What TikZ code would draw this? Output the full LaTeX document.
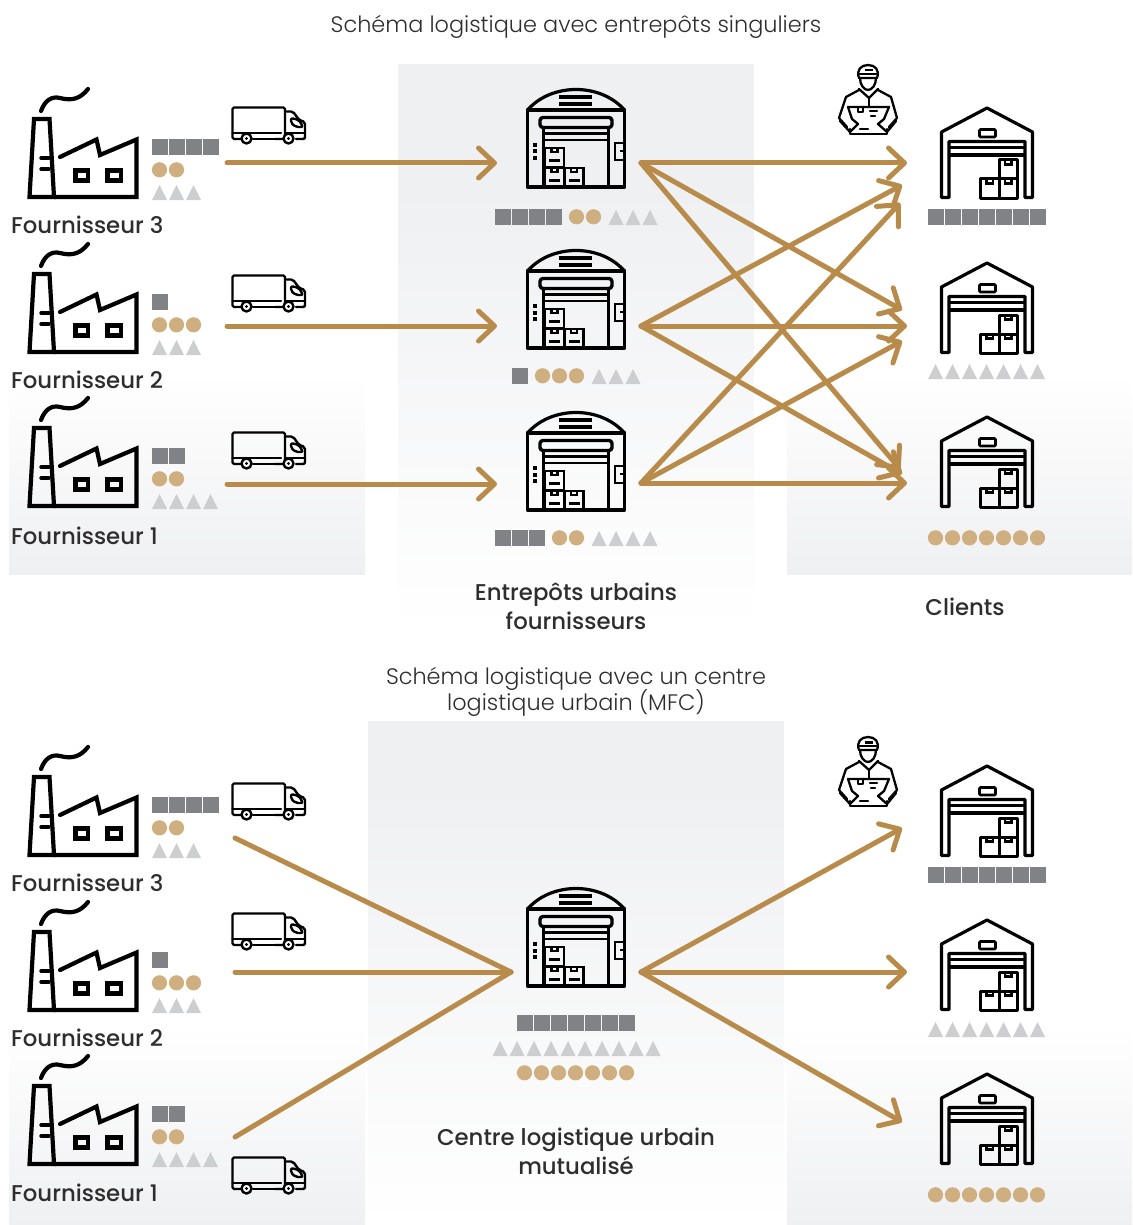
\documentclass[tikz,border=0pt]{standalone}
\usepackage{fontspec}
\setmainfont{Poppins}
\newfontfamily\lightface{Poppins Light}
\newfontfamily\mediumface{Poppins Medium}
\usetikzlibrary{arrows.meta, positioning}

\definecolor{panelgrey}{HTML}{EFF0F2}
\definecolor{flowbrown}{HTML}{B88B4A}
\definecolor{sqgrey}{HTML}{808285}
\definecolor{dotsand}{HTML}{CFAF7F}
\definecolor{trigrey}{HTML}{CDCED0}
\definecolor{inkdark}{HTML}{2F2D2E}

\begin{document}
\begin{tikzpicture}[x=1pt, y=-1pt]
	\tikzset{>={Straight Barb[length=16pt, width=30pt, round]},
		flow/.style={draw=flowbrown, line width=5pt, line cap=round},
		icon/.style={draw=black, line cap=round, line join=round},
		title/.style={font=\lightface\fontsize{22.4}{26}\selectfont, text=inkdark, align=center},
		heading/.style={font=\mediumface\fontsize{22.8}{29}\selectfont, text=inkdark, align=center},
		pics/squares/.style={code={\foreach \i in {1,...,#1} \fill[sqgrey] ({(\i-1)*17},0) rectangle ++(16,16);}},
		pics/dots/.style={code={\foreach \i in {1,...,#1} \fill[dotsand] ({(\i-1)*17+7.5},7.8) circle (7.6);}},
		pics/triangles/.style={code={\foreach \i in {1,...,#1} \fill[trigrey] ({(\i-1)*17},15) -- ++(7.5,-15) -- ++(7.5,15) -- cycle;}},
		pics/factory/.style={code={
			\draw[icon, line width=4.2pt] (41,111) .. controls (45,100) and (52,96) .. (60,98) .. controls (72,101) and (80,99) .. (88,89);
			\draw[icon, line width=4.2pt, line join=miter] (29.5,197) -- (34,119) -- (49.5,119) -- (54,197) -- cycle;
			\draw[icon, line width=4.2pt, line join=miter] (54,197) -- (136.5,197) -- (136.5,139.5) -- (100,155) -- (96.5,139.5) -- (60,157);
			\draw[icon, line width=3.4pt] (41,158) -- (49,158) (41,169) -- (49,169);
			\draw[line width=4.2pt] (75.5,170.5) rectangle (88,180.5) (107.5,170.5) rectangle (121,180.5);
		}},
		pics/truck/.style={code={
			\draw[icon, line width=2.4pt, rounded corners=1.5pt] (241,139) -- (232.5,139) -- (232.5,107.5) -- (285,107.5) -- (285,139) -- (275,139);
			\draw[icon, line width=2.4pt] (232.5,133) -- (281,133) (253,139) -- (275,139);
			\draw[icon, line width=2.4pt, rounded corners=2pt] (285,111.5) -- (293,111.5) -- (299,120) -- (305,122) -- (305,139) -- (296,139);
			\draw[icon, line width=2.4pt, rounded corners=2pt] (291,118) -- (299,120) -- (303,127) -- (296,127) -- (291,123) -- cycle;
			\draw[icon, line width=2.4pt] (285,133) -- (305,133);
			\draw[icon, line width=2.4pt, fill=white] (246.5,138.5) circle (5) (288.5,138.5) circle (5);
			\fill (246.5,138.5) circle (1.6) (288.5,138.5) circle (1.6);
		}},
		pics/depot/.style={code={
			\draw[icon, line width=3.2pt] (527.5,110) .. controls (540,96) and (558,89.5) .. (576,89.5) .. controls (594,89.5) and (612,96) .. (624.5,110) -- cycle;
			\draw[icon, line width=3.2pt] (527.5,110) rectangle (624.5,187);
			\draw[line width=3.2pt] (559,97) -- (592,97) (559,104) -- (592,104);
			\draw[icon, line width=3.4pt, rounded corners=3pt] (540,127.5) -- (540,117.5) -- (612,117.5) -- (612,127.5) -- cycle;
			\draw[line width=3.2pt] (543.5,127.5) -- (543.5,187) (608.5,127.5) -- (608.5,187) (543.5,133.5) -- (608.5,133.5);
			\draw[line width=2.4pt] (543.5,140) -- (608.5,140);
			\foreach \bx/\by in {545/148, 545/168, 564.5/168} {
				\draw[line width=2.8pt] (\bx,\by) rectangle ++(19,19.5);
				\draw[line width=2.2pt] (\bx+6.5,\by) -- ++(0,4) -- ++(6,0) -- ++(0,-4);
				\fill (\bx+4,\by+11) rectangle ++(11,3.4);
			}
			\foreach \dy in {143, 149.5, 156} \fill (533,\dy) rectangle ++(4,4);
			\draw[line width=2.8pt] (615,143) rectangle (624.5,160);
			\draw[line width=2.8pt] (620,151) -- (624,151);
		}},
		pics/store/.style={code={
			\draw[icon, line width=3.2pt] (949,197.5) -- (941.5,197.5) -- (941.5,132) -- (987,108) -- (1032.5,132) -- (1032.5,197.5) -- (1025,197.5) -- (1025,141.5) -- (949,141.5) -- cycle;
			\draw[line width=3.4pt] (949,155) -- (1025,155);
			\draw[line width=2.6pt] (949,147.5) -- (1025,147.5);
			\draw[icon, line width=2.8pt, rounded corners=1pt] (979.5,129.5) rectangle (995.5,137);
			\foreach \bx/\by in {980.5/179, 999/179, 999/160} {
				\draw[icon, line width=3pt] (\bx,\by) rectangle ++(18.5,19);
				\draw[line width=2.4pt] (\bx+6,\by) -- ++(0,4.5) -- ++(6.5,0) -- ++(0,-4.5);
			}
		}},
		pics/courier/.style={code={
			\begin{scope}[icon, line width=2.3pt]
			\draw (859,78) .. controls (856,70) and (861,65) .. (868,65) .. controls (875,65) and (880,70) .. (877,78) -- cycle;
			\draw (859,74) -- (877,74);
			\draw (860,78) .. controls (860,85) and (864,90) .. (868,90) .. controls (872,90) and (876,85) .. (876,78);
			\fill (865,69) rectangle (873,71.5);
			\draw (859,89) -- (869,98) -- (878,89);
			\draw (869,98) -- (869,107);
			\draw (859,90) -- (846,97) -- (839,118) -- (847,127);
			\draw (878,90) -- (891,97) -- (897,118) -- (889,127);
			\draw (848,107) -- (889,107) -- (884,119) -- (878,124) -- (887,132) -- (896,121);
			\draw (848,107) -- (852,119) -- (858,124) -- (850,132) -- (840,121);
			\draw (850,129) -- (850,134) -- (887,134) -- (887,129);
			\draw (858,107) -- (858,112) -- (863,112) -- (863,107);
			\draw (870,111) -- (877,111) (871,116) -- (875,116) (860,129) -- (868,129);
			\end{scope}
		}}
	}

	\useasboundingbox (0,0) rectangle (1132,1225);

	% panels
	\fill[panelgrey] (398,64) rectangle (754,190);
	\shade[top color=panelgrey, bottom color=white] (398,190) rectangle (754,630);
	\fill[panelgrey] (368,721) rectangle (784,785);
	\shade[top color=panelgrey, bottom color=white] (368,785) rectangle (784,1225);
	\foreach \px/\qx in {9/365, 787/1132} {
		\shade[top color=white, bottom color=panelgrey] (\px,374) rectangle (\qx,574);
		\shade[top color=white, bottom color=panelgrey] (\px,1025) rectangle (\qx,1225);
	}

	% suppliers: row, factory shift, truck shift, squares, dots, triangles
	\foreach \n/\fs/\ts/\ns/\nd/\nt in {a3/0/0/4/2/3, a2/155/168/1/3/3, a1/309/325/2/2/4,
			b3/658/676/4/2/3, b2/813/806/1/3/3, b1/967/1050/2/2/4} {
		\pic at (0,\fs) {factory};
		\pic at (0,\ts) {truck};
		\pic at (152,139+\fs) {squares=\ns};
		\pic at (152,162+\fs) {dots=\nd};
		\pic at (152,185+\fs) {triangles=\nt};
	}
	\foreach \n/\fs/\txt in {a3/0/3, a2/155/2, a1/311/1, b3/658/3, b2/813/2, b1/968/1}
		\node[heading, anchor=base west, inner sep=0pt] (sup\n) at (11,233+\fs) {Fournisseur \txt};

	% depots
	\foreach \ds in {0, 161, 323, 799} \pic at (0,\ds) {depot};
	\pic at (495,209) {squares=4};
	\pic at (569,209) {dots=2};
	\pic at (608.5,210) {triangles=3};
	\pic at (512,368) {squares=1};
	\pic at (535,368) {dots=3};
	\pic at (591.5,369) {triangles=3};
	\pic at (495,530) {squares=3};
	\pic at (552,530) {dots=2};
	\pic at (591.5,531) {triangles=4};
	\pic at (517,1015) {squares=7};
	\pic at (492.5,1041) {triangles=10};
	\pic at (517,1065) {dots=7};

	% clients
	\foreach \cs in {0, 155, 309, 658, 812, 966} \pic at (0,\cs) {store};
	\pic at (928,209) {squares=7};
	\pic at (928,364) {triangles=7};
	\pic at (928,530) {dots=7};
	\pic at (928,867) {squares=7};
	\pic at (928,1022) {triangles=7};
	\pic at (928,1187) {dots=7};
	\pic at (0,0) {courier};
	\pic at (0,672) {courier};

	% texts
	\node[title] (upptitle) at (576,27) {Schéma logistique avec entrepôts singuliers};
	\node[title] (lowtitle) at (576,692) {Schéma logistique avec un centre\\[-2pt]logistique urbain (MFC)};
	\node[heading] (depname) at (576,606) {Entrepôts urbains\\fournisseurs};
	\node[heading] (cliname) at (965,607) {Clients};
	\node[heading] (hubname) at (576,1151) {Centre logistique urbain\\mutualisé};

	% ends of the flows
	\coordinate (in3) at (227,163);
	\coordinate (in2) at (227,326);
	\coordinate (in1) at (227,484);
	\coordinate (dep3w) at (497,163);
	\coordinate (dep2w) at (497,326);
	\coordinate (dep1w) at (497,484);
	\coordinate (dep3e) at (641,163);
	\coordinate (dep2e) at (641,326);
	\coordinate (dep1e) at (641,483);
	\coordinate (cli3a) at (907,163);
	\coordinate (cli3b) at (902,185);
	\coordinate (cli3c) at (900,203);
	\coordinate (cli2a) at (902,310);
	\coordinate (cli2b) at (907,326);
	\coordinate (cli2c) at (902,341);
	\coordinate (cli1a) at (900,469);
	\coordinate (cli1b) at (902,474);
	\coordinate (cli1c) at (907,483);
	\coordinate (low3) at (235,838);
	\coordinate (low2) at (235,972);
	\coordinate (low1) at (235,1137);
	\coordinate (hubw) at (511,972);
	\coordinate (hube) at (641,972);
	\coordinate (out3) at (902,828);
	\coordinate (out2) at (907,972);
	\coordinate (out1) at (902,1122);

	\foreach \a/\b in {in3/dep3w, in2/dep2w, in1/dep1w, dep3e/cli3a, dep3e/cli2a, dep3e/cli1a,
			dep2e/cli3b, dep2e/cli2b, dep2e/cli1b, dep1e/cli3c, dep1e/cli2c, dep1e/cli1c,
			hube/out3, hube/out2, hube/out1}
		\draw[flow, ->] (\a) -- (\b);
	\foreach \a in {low3, low2, low1}
		\draw[flow] (\a) -- (hubw);
\end{tikzpicture}
\end{document}
